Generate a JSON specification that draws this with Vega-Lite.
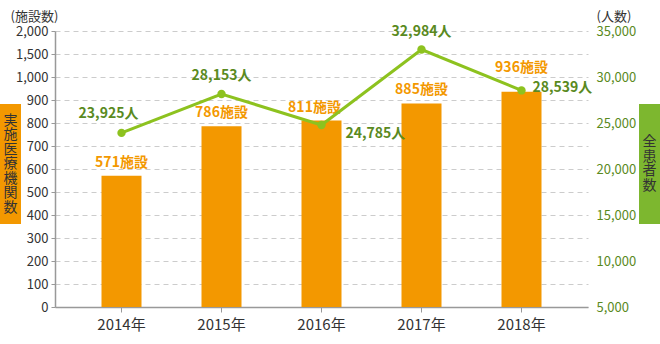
{
  "$schema": "https://vega.github.io/schema/vega-lite/v6.json",
  "background": "white",
  "padding": {"left": 0, "top": 10, "right": 0, "bottom": 0},
  "config": {"font": "Noto Sans CJK JP", "view": {"stroke": null}},
  "bounds": "flush",
  "spacing": 34,
  "hconcat": [
    {
      "width": 21,
      "height": 276,
      "data": {"values": [{"label": "実\n施\n医\n療\n機\n関\n数"}]},
      "encoding": {
        "y": {"field": "label", "type": "nominal", "scale": {"paddingInner": 0, "paddingOuter": 0.65, "align": 0.468}, "axis": null}
      },
      "layer": [
        {"mark": {"type": "rect", "color": "#F39800"}},
        {"mark": {"type": "text", "lineBreak": "\n", "fontSize": 14, "lineHeight": 14.5, "dy": -43.5, "color": "#333333", "baseline": "middle", "align": "center"},
         "encoding": {"text": {"field": "label"}}}
      ]
    },
    {
      "width": 533,
      "height": 276,
      "data": {"values": [
        {"year": "2014年", "facilities": 571, "patients": 23925},
        {"year": "2015年", "facilities": 786, "patients": 28153},
        {"year": "2016年", "facilities": 811, "patients": 24785},
        {"year": "2017年", "facilities": 885, "patients": 32984},
        {"year": "2018年", "facilities": 936, "patients": 28539}
      ]},
      "transform": [
        {"calculate": "format(datum.facilities, 'd') + '施設'", "as": "facLabel"},
        {"calculate": "format(datum.patients, ',') + '人'", "as": "patLabel"}
      ],
      "encoding": {
        "x": {"field": "year", "type": "nominal", "sort": null,
          "scale": {"paddingInner": 0.6, "paddingOuter": 0.465},
          "axis": {"title": null, "labelAngle": 0, "domainColor": "#999999", "domainWidth": 1.5, "tickColor": "#999999", "tickSize": 5, "labelFontSize": 15, "labelColor": "#333333", "labelPadding": 5, "grid": false}}
      },
      "layer": [
        {
          "encoding": {
            "y": {"field": "facilities", "type": "quantitative",
              "scale": {"domain": [0, 1000, 2000], "range": [276, 46, 0], "nice": false, "zero": false},
              "axis": {"values": [0, 100, 200, 300, 400, 500, 600, 700, 800, 900, 1000, 1500, 2000], "format": ",d",
                "grid": true, "gridDash": [5, 4], "gridColor": "#cccccc", "gridWidth": 1,
                "domainColor": "#999999", "domainWidth": 1.5, "tickColor": "#999999", "tickSize": 4,
                "labelPadding": 3, "labelFontSize": 13, "labelColor": "#333333",
                "title": "(施設数)", "titleAngle": 0, "titleX": -45, "titleY": -15, "titleAlign": "left", "titleBaseline": "middle",
                "titleFontSize": 13, "titleFontWeight": "normal", "titleColor": "#333333"}}
          },
          "layer": [
            {"mark": {"type": "bar", "color": "#F39800"}},
            {"transform": [{"filter": "datum.year != '2018年' && datum.year != '2016年'"}],
             "mark": {"type": "text", "baseline": "bottom", "dy": -6, "fontSize": 14, "fontWeight": "bold", "color": "#F39800"},
             "encoding": {"text": {"field": "facLabel"}}},
            {"transform": [{"filter": "datum.year == '2016年'"}],
             "mark": {"type": "text", "baseline": "bottom", "dx": -7, "dy": -5, "fontSize": 14, "fontWeight": "bold", "color": "#F39800"},
             "encoding": {"text": {"field": "facLabel"}}},
            {"transform": [{"filter": "datum.year == '2018年'"}],
             "mark": {"type": "text", "baseline": "bottom", "dy": -17, "fontSize": 14, "fontWeight": "bold", "color": "#F39800"},
             "encoding": {"text": {"field": "facLabel"}}}
          ]
        },
        {
          "encoding": {
            "y": {"field": "patients", "type": "quantitative",
              "scale": {"domain": [5000, 35000], "nice": false, "zero": false},
              "axis": {"orient": "right", "values": [5000, 10000, 15000, 20000, 25000, 30000, 35000], "format": ",d",
                "grid": false, "domain": false, "ticks": false, "labelPadding": 8, "labelFontSize": 13, "labelColor": "#5B8A1E",
                "title": "(人数)", "titleAngle": 0, "titleX": 8, "titleY": -15, "titleAlign": "left", "titleBaseline": "middle",
                "titleFontSize": 13, "titleFontWeight": "normal", "titleColor": "#333333"}}
          },
          "layer": [
            {"mark": {"type": "line", "color": "#8DC21F", "strokeWidth": 3}},
            {"mark": {"type": "point", "filled": true, "size": 70, "color": "#8DC21F", "opacity": 1}},
            {"transform": [{"filter": "datum.year == '2014年'"}],
             "mark": {"type": "text", "baseline": "bottom", "dx": -13, "dy": -12, "fontSize": 14, "fontWeight": "bold", "color": "#5A8A1E"},
             "encoding": {"text": {"field": "patLabel"}}},
            {"transform": [{"filter": "datum.year == '2015年' || datum.year == '2017年'"}],
             "mark": {"type": "text", "baseline": "bottom", "dy": -11, "fontSize": 14, "fontWeight": "bold", "color": "#5A8A1E"},
             "encoding": {"text": {"field": "patLabel"}}},
            {"transform": [{"filter": "datum.year == '2016年'"}],
             "mark": {"type": "text", "baseline": "middle", "align": "left", "dx": 24, "dy": 9, "fontSize": 14, "fontWeight": "bold", "color": "#5A8A1E"},
             "encoding": {"text": {"field": "patLabel"}}},
            {"transform": [{"filter": "datum.year == '2018年'"}],
             "mark": {"type": "text", "baseline": "middle", "align": "left", "dx": 11, "dy": -2, "fontSize": 14, "fontWeight": "bold", "color": "#5A8A1E"},
             "encoding": {"text": {"field": "patLabel"}}}
          ]
        }
      ],
      "resolve": {"scale": {"y": "independent"}}
    },
    {
      "width": 38,
      "height": 276,
      "data": {"values": [{"label": "全\n患\n者\n数"}]},
      "encoding": {
        "x": {"field": "label", "type": "nominal", "scale": {"paddingInner": 0, "paddingOuter": 0.4048, "align": 1}, "axis": null},
        "y": {"field": "label", "type": "nominal", "scale": {"paddingInner": 0, "paddingOuter": 0.65, "align": 0.468}, "axis": null}
      },
      "layer": [
        {"mark": {"type": "rect", "color": "#7DB72F"}},
        {"mark": {"type": "text", "lineBreak": "\n", "fontSize": 14, "lineHeight": 14.5, "dy": -21.75, "color": "#333333", "baseline": "middle", "align": "center"},
         "encoding": {"text": {"field": "label"}}}
      ]
    }
  ]
}
